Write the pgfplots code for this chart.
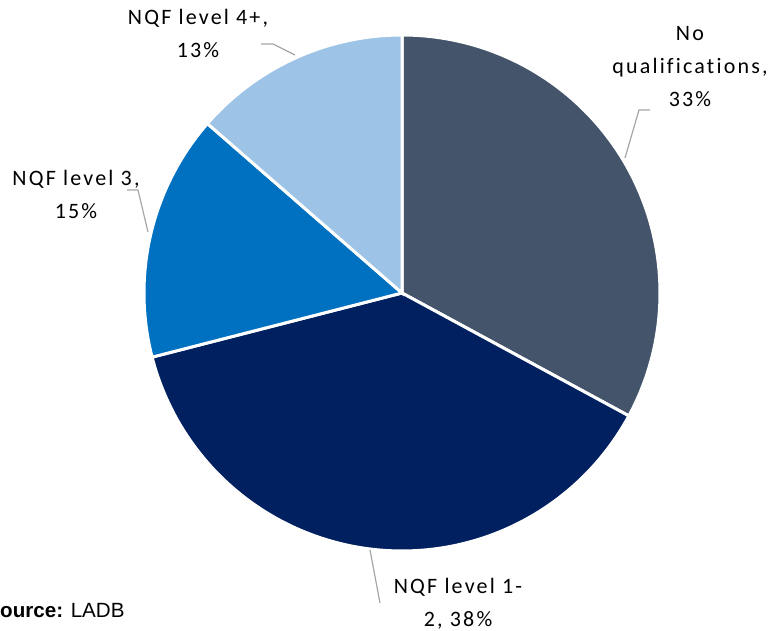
\documentclass[border=0pt]{standalone}
\usepackage{pgfplots}
\pgfplotsset{compat=1.18}
\usepackage{pgfplotstable}
\usepackage{fontspec}
\setmainfont{Carlito}[LetterSpace=10, Ligatures=NoCommon]
\newfontfamily\arialfont{Liberation Sans}
\definecolor{cNo}{HTML}{44546A}
\definecolor{cL12}{HTML}{002060}
\definecolor{cL3}{HTML}{0070C0}
\definecolor{cL4}{HTML}{9DC3E6}
\definecolor{lead}{HTML}{A6A6A6}
\pgfplotstableread{
label pct
NoQual 32.9
L12 38.1
L3 15.4
L4 13.6
}\pietable
\begin{document}
\begin{tikzpicture}
\pgfplotstablegetelem{0}{pct}\of\pietable\let\pA=\pgfplotsretval
\pgfplotstablegetelem{1}{pct}\of\pietable\let\pB=\pgfplotsretval
\pgfplotstablegetelem{2}{pct}\of\pietable\let\pC=\pgfplotsretval
\pgfplotstablegetelem{3}{pct}\of\pietable\let\pD=\pgfplotsretval
\pgfmathsetmacro{\aA}{90}
\pgfmathsetmacro{\aB}{90-3.6*\pA}
\pgfmathsetmacro{\aC}{90-3.6*(\pA+\pB)}
\pgfmathsetmacro{\aD}{90-3.6*(\pA+\pB+\pC)}
\pgfmathsetmacro{\aE}{90-3.6*(\pA+\pB+\pC+\pD)}
\begin{axis}[
  name=ax,
  scale only axis, width=384pt, height=315.5pt,
  xmin=0, xmax=768, ymin=0, ymax=631,
  hide axis, clip=false,
  trig format plots=deg,
]
\addplot[fill=cNo, draw=white, line width=1.5pt, domain=\aB:\aA, samples=150, variable=\t]
  ({402+258*cos(t)},{338+258*sin(t)}) -- (axis cs:402,338) -- cycle;
\addplot[fill=cL12, draw=white, line width=1.5pt, domain=\aC:\aB, samples=150, variable=\t]
  ({402+258*cos(t)},{338+258*sin(t)}) -- (axis cs:402,338) -- cycle;
\addplot[fill=cL3, draw=white, line width=1.5pt, domain=\aD:\aC, samples=80, variable=\t]
  ({402+258*cos(t)},{338+258*sin(t)}) -- (axis cs:402,338) -- cycle;
\addplot[fill=cL4, draw=white, line width=1.5pt, domain=\aE:\aD, samples=80, variable=\t]
  ({402+258*cos(t)},{338+258*sin(t)}) -- (axis cs:402,338) -- cycle;
% leader lines
\addplot[lead, line width=0.6pt, no marks] coordinates {(650,521) (639,521) (625,473)};
\addplot[lead, line width=0.6pt, no marks] coordinates {(370,81) (380,28)};
\addplot[lead, line width=0.6pt, no marks] coordinates {(127,441) (138,441) (148,399)};
\addplot[lead, line width=0.6pt, no marks] coordinates {(261,587) (273,587) (295,576)};
% labels
\node[align=center, font=\fontsize{11pt}{16.5pt}\selectfont] at (axis cs:690,564) {No\\qualifications,\\33\%};
\node[align=center, font=\fontsize{11pt}{16.5pt}\selectfont] at (axis cs:458,27.5) {NQF level 1-\\2, 38\%};
\node[align=center, font=\fontsize{11pt}{16.5pt}\selectfont] at (axis cs:76,436.5) {NQF level 3,\\15\%};
\node[align=center, font=\fontsize{11pt}{16.5pt}\selectfont] at (axis cs:198,598) {NQF level 4+,\\13\%};
\node[anchor=base east, inner sep=0pt, font=\arialfont\fontsize{10.3pt}{12pt}\selectfont] at (axis cs:125,13) {\textbf{Source:} LADB};
\end{axis}
\pgfresetboundingbox
\useasboundingbox (ax.south west) rectangle (ax.north east);
\end{tikzpicture}
\end{document}
